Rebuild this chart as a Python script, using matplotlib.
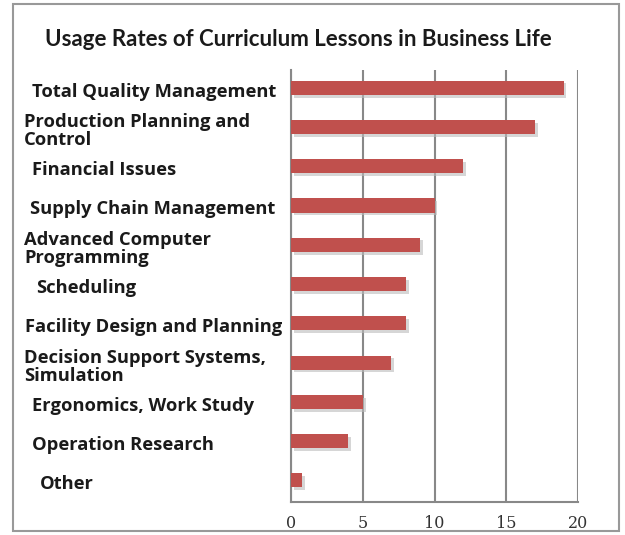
import matplotlib.pyplot as plt
from matplotlib import patheffects
from matplotlib.patches import Rectangle
from matplotlib.transforms import ScaledTranslation

# Data
lessons = ['Total Quality Management', 'Production Planning and\nControl',
           'Financial Issues', 'Supply Chain Management',
           'Advanced Computer\nProgramming', 'Scheduling',
           'Facility Design and Planning', 'Decision Support Systems,\nSimulation',
           'Ergonomics, Work Study', 'Operation Research', 'Other']
usage = [19, 17, 12, 10, 9, 8, 8, 7, 5, 4, 0.8]
xticks = [0, 5, 10, 15, 20]

# small left indents of the labels in the original (pixels)
indents = [8, 0, 8, 6, 0, 12, 1, 0, 8, 8, 16]

plt.rcParams['font.family'] = ['Lato', 'DejaVu Sans']

fig = plt.figure(figsize=(6.25, 5.35), dpi=100)
ax = fig.add_axes([291 / 625, 1 - 502 / 535, 287 / 625, 432 / 535])

pos = list(range(len(lessons)))
bars = ax.barh(pos, usage, height=0.36, color='#C0504D', zorder=3)
for b in bars:
    b.set_path_effects([patheffects.SimplePatchShadow(offset=(2, -2), shadow_rgbFace='#bbbbbb', alpha=0.6),
                        patheffects.Normal()])

ax.set_xlim(0, 20)
ax.set_ylim(10.55, -0.45)
ax.set_xticks(xticks)
ax.set_xticklabels([str(t) for t in xticks], family='DejaVu Serif', fontsize=11.5, color='#333333')
ax.tick_params(axis='x', length=0, pad=9)
ax.grid(axis='x', color='#888888', linewidth=1.5, zorder=0)

ax.set_yticks(pos)
ax.set_yticklabels(lessons, fontsize=13.2, fontweight='bold', ha='left', linespacing=1.0,
                   family=['Open Sans', 'DejaVu Sans'], color='#1a1a1a')
ax.tick_params(axis='y', length=0, pad=(291 - 24) * 0.72)
for lbl, dx in zip(ax.get_yticklabels(), indents):
    lbl.set_transform(lbl.get_transform() + ScaledTranslation(dx / 100, -2 / 100, fig.dpi_scale_trans))

for s in ['top', 'right']:
    ax.spines[s].set_visible(False)
for s in ['left', 'bottom']:
    ax.spines[s].set_color('#888888')
    ax.spines[s].set_linewidth(1.5)

fig.text(298 / 625, 1 - 40 / 535, 'Usage Rates of Curriculum Lessons in Business Life',
         ha='center', va='center', fontsize=16, fontweight='bold', color='#1a1a1a')

fig.patches.append(Rectangle((13 / 625, 4 / 535), 606 / 625, 527 / 535, transform=fig.transFigure,
                             fill=False, edgecolor='#999999', linewidth=1.5))

plt.savefig('out.png', dpi=100)
plt.close()
